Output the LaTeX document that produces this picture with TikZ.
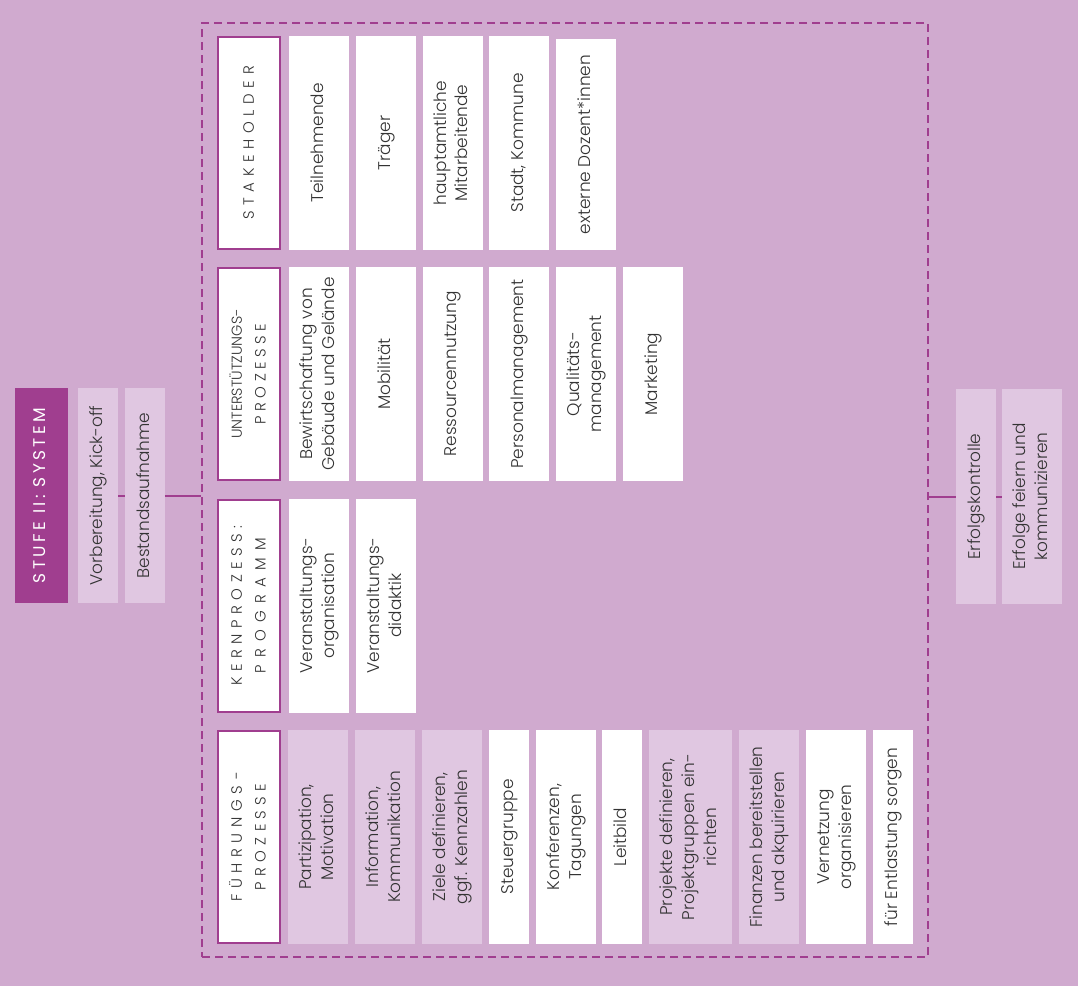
\documentclass[tikz,border=0pt]{standalone}
\usepackage{fontspec}
\setmainfont{Poppins}[UprightFont=* Light]
\newfontfamily\titlefont{Poppins}
\usepackage{graphicx}
\usetikzlibrary{fit,positioning}

\definecolor{mauve}{HTML}{D0AACF}
\definecolor{lilac}{HTML}{E0C7E1}
\definecolor{plum}{HTML}{A03E8F}
\definecolor{ink}{HTML}{333333}

\newcommand{\vtext}[1]{\rotatebox{90}{\begin{tabular}{@{}c@{}}#1\end{tabular}}}
\newcommand{\spaced}[2]{{\addfontfeature{LetterSpace=#1}#2}}

\begin{document}
\begin{tikzpicture}[x=1bp, y=-1bp, node distance=6.8bp]
      \tikzset{cell/.style={rectangle, fill=white, inner sep=0pt, outer sep=0pt, minimum width=60bp, minimum height=214bp, text=ink, font=\fontsize{17}{22}\selectfont}}
      \tikzset{slim/.style={cell, minimum width=40bp}}
      \tikzset{wide/.style={cell, minimum width=83bp}}
      \tikzset{soft/.style={fill=lilac}}
      \tikzset{head/.style={cell, draw=plum, line width=2bp, outer sep=1bp, minimum width=62bp, minimum height=212bp, font=\fontsize{15}{24}\selectfont}}
      \tikzset{side/.style={cell, fill=lilac, minimum width=40bp, minimum height=215bp}}
      \tikzset{link/.style={draw=plum, line width=2bp}}
      \tikzset{frame/.style={draw=plum, line width=2bp, dash pattern=on 8bp off 5bp, inner xsep=15bp, inner ysep=13bp}}

      \path[use as bounding box, fill=mauve] (0,0) rectangle (1078,986);

      % left column
      \node[side, fill=plum, minimum width=53bp, text=white] (stufe) at (41.5,495.5) {\vtext{\titlefont\fontsize{17}{22}\selectfont\spaced{20}{STUFE II: SYSTEM}}};
      \node[side, right=10bp of stufe] (kickoff) {\vtext{Vorbereitung, Kick-off}};
      \node[side, right=of kickoff] (bestand) {\vtext{Bestandsaufnahme}};

      % stakeholder
      \node[head] (stake) at (249,143) {\vtext{\spaced{38}{STAKEHOLDER}}};
      \node[cell, right=8bp of stake] (teiln) {\vtext{Teilnehmende}};
      \node[cell, right=of teiln] (traeger) {\vtext{Träger}};
      \node[cell, right=of traeger] (haupt) {\vtext{hauptamtliche\\Mitarbeitende}};
      \node[cell, right=of haupt] (stadt) {\vtext{Stadt, Kommune}};
      \node[cell, minimum height=211bp, right=of stadt, yshift=-1.5bp] (dozent) {\vtext{externe Dozent*innen}};

      % unterstuetzungsprozesse
      \node[head] (support) at (249,374) {\vtext{{\fontsize{14.5}{24}\selectfont UNTERSTÜTZUNGS-}\\\spaced{30}{PROZESSE}}};
      \node[cell, right=8bp of support] (bewirt) {\vtext{Bewirtschaftung von\\Gebäude und Gelände}};
      \node[cell, right=of bewirt] (mobil) {\vtext{Mobilität}};
      \node[cell, right=of mobil] (ressource) {\vtext{Ressourcennutzung}};
      \node[cell, right=of ressource] (personal) {\vtext{Personalmanagement}};
      \node[cell, right=of personal] (quali) {\vtext{Qualitäts-\\management}};
      \node[cell, right=of quali] (marketing) {\vtext{Marketing}};

      % kernprozess
      \node[head] (kern) at (249,605.5) {\vtext{\spaced{37}{KERNPROZESS:}\\\spaced{49}{PROGRAMM}}};
      \node[cell, right=8bp of kern] (vorg) {\vtext{Veranstaltungs-\\organisation}};
      \node[cell, right=of vorg] (vdid) {\vtext{Veranstaltungs-\\didaktik}};

      % fuehrungsprozesse
      \begin{scope}[node distance=7bp]
      \node[head] (fuehr) at (249,837) {\vtext{\spaced{38}{FÜHRUNGS-}\\\spaced{36}{PROZESSE}}};
      \node[cell, soft, right=of fuehr] (partiz) {\vtext{Partizipation,\\Motivation}};
      \node[cell, soft, right=of partiz] (inform) {\vtext{Information,\\Kommunikation}};
      \node[cell, soft, right=of inform] (ziele) {\vtext{Ziele definieren,\\ggf. Kennzahlen}};
      \node[slim, right=of ziele] (steuer) {\vtext{Steuergruppe}};
      \node[cell, right=of steuer] (konf) {\vtext{Konferenzen,\\Tagungen}};
      \node[slim, right=6bp of konf] (leitbild) {\vtext{Leitbild}};
      \node[wide, soft, right=of leitbild] (projekt) {\vtext{Projekte definieren,\\Projektgruppen ein-\\richten}};
      \node[cell, soft, right=of projekt] (finanz) {\vtext{Finanzen bereitstellen\\und akquirieren}};
      \node[cell, right=of finanz] (vernetz) {\vtext{Vernetzung\\organisieren}};
      \node[slim, right=of vernetz] (entlast) {\vtext{für Entlastung sorgen}};
      \end{scope}

      \node[frame, fit=(stake) (fuehr) (entlast) (teiln)] (frame) {};

      % right column
      \node[side] (kontrolle) at (976,496.5) {\vtext{Erfolgskontrolle}};
      \node[side, minimum width=60bp, right=6bp of kontrolle] (feiern) {\vtext{Erfolge feiern und\\kommunizieren}};

      \draw[link] (kickoff.east) -- (bestand.west);
      \draw[link] (bestand.east) -- (bestand.east -| frame.west);
      \draw[link] (frame.east |- kontrolle.west) -- (kontrolle.west);
      \draw[link] (kontrolle.east) -- (feiern.west);
\end{tikzpicture}
\end{document}
